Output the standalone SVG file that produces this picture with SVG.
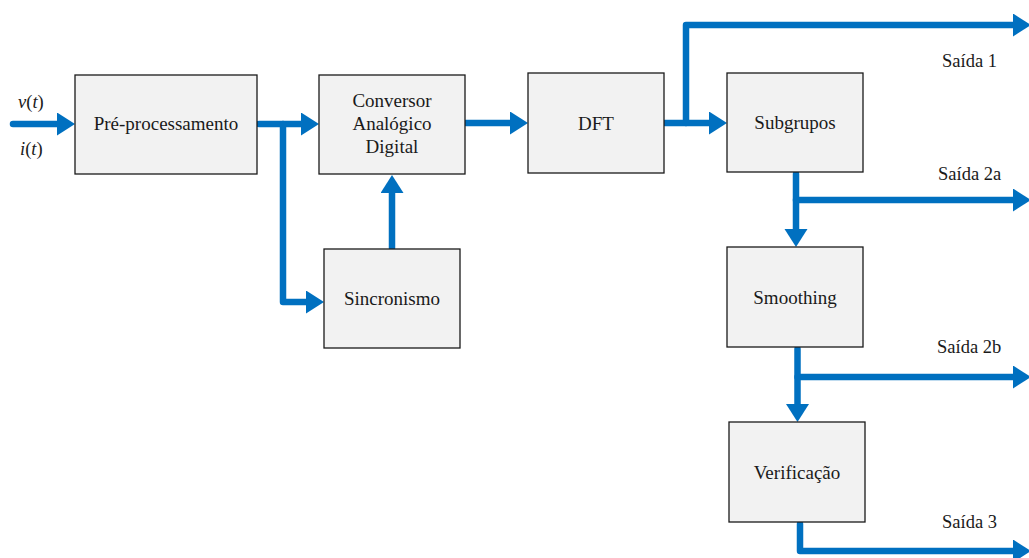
<svg xmlns="http://www.w3.org/2000/svg" width="1029" height="558" viewBox="0 0 1029 558">
  <style>
    .box { fill: #f2f2f2; stroke: #1a1a1a; stroke-width: 1.3; }
    text { font-family: "Liberation Serif", "Times New Roman", serif; fill: #1a1a1a; }
    .lbl { font-size: 19px; text-anchor: middle; }
    .out { font-size: 18.5px; }
    .wire { fill: none; stroke: #0070c0; stroke-width: 6.5; stroke-linejoin: round; stroke-linecap: round; }
    .it { font-style: italic; }
  </style>
  <defs>
    <!-- filled head; its tip sits 9px beyond the end of the wire -->
    <marker id="arrow" markerUnits="userSpaceOnUse" markerWidth="20" markerHeight="24" refX="9" refY="11.5" orient="auto">
      <path d="M0,0 L18,11.5 L0,23 Z" fill="#0070c0"/>
    </marker>
  </defs>

  <!-- connectors -->
  <g id="connectors">
    <path class="wire" d="M13,124 H66" marker-end="url(#arrow)"/>
    <path class="wire" d="M259,124 H310" marker-end="url(#arrow)"/>
    <path class="wire" d="M283,124 V302 H315" marker-end="url(#arrow)"/>
    <path class="wire" d="M392,248 V184" marker-end="url(#arrow)"/>
    <path class="wire" d="M466,123 H519" marker-end="url(#arrow)"/>
    <path class="wire" d="M665,123 H718" marker-end="url(#arrow)"/>
    <path class="wire" d="M686,123 V25 H1022" marker-end="url(#arrow)"/>
    <path class="wire" d="M796,174 V238" marker-end="url(#arrow)"/>
    <path class="wire" d="M796,200 H1022" marker-end="url(#arrow)"/>
    <path class="wire" d="M797.5,349 V413" marker-end="url(#arrow)"/>
    <path class="wire" d="M797.5,377 H1022" marker-end="url(#arrow)"/>
    <path class="wire" d="M800,524 V551 H1022" marker-end="url(#arrow)"/>
  </g>

  <!-- nodes -->
  <g id="preprocessamento">
    <rect class="box" x="75" y="75" width="182" height="99"/>
    <text class="lbl" x="166" y="130">Pré-processamento</text>
  </g>
  <g id="conversor">
    <rect class="box" x="319" y="75" width="146" height="99"/>
    <text class="lbl" x="392" y="107">Conversor</text>
    <text class="lbl" x="392" y="130">Analógico</text>
    <text class="lbl" x="392" y="153">Digital</text>
  </g>
  <g id="sincronismo">
    <rect class="box" x="324" y="249" width="136" height="99"/>
    <text class="lbl" x="392" y="305">Sincronismo</text>
  </g>
  <g id="dft">
    <rect class="box" x="528" y="73" width="136" height="100"/>
    <text class="lbl" x="596" y="129.5">DFT</text>
  </g>
  <g id="subgrupos">
    <rect class="box" x="727" y="73" width="136" height="99"/>
    <text class="lbl" x="795" y="129">Subgrupos</text>
  </g>
  <g id="smoothing">
    <rect class="box" x="727" y="247" width="136" height="100"/>
    <text class="lbl" x="795" y="304">Smoothing</text>
  </g>
  <g id="verificacao">
    <rect class="box" x="729" y="422" width="136" height="100"/>
    <text class="lbl" x="797" y="479">Verificação</text>
  </g>

  <!-- signal and output labels -->
  <g id="labels">
    <text class="out" x="18" y="108"><tspan class="it">v</tspan>(<tspan class="it">t</tspan>)</text>
    <text class="out" x="20" y="155"><tspan class="it">i</tspan>(<tspan class="it">t</tspan>)</text>
    <text class="out" x="942" y="67">Saída 1</text>
    <text class="out" x="938" y="180">Saída 2a</text>
    <text class="out" x="937" y="353">Saída 2b</text>
    <text class="out" x="942" y="528">Saída 3</text>
  </g>
</svg>
